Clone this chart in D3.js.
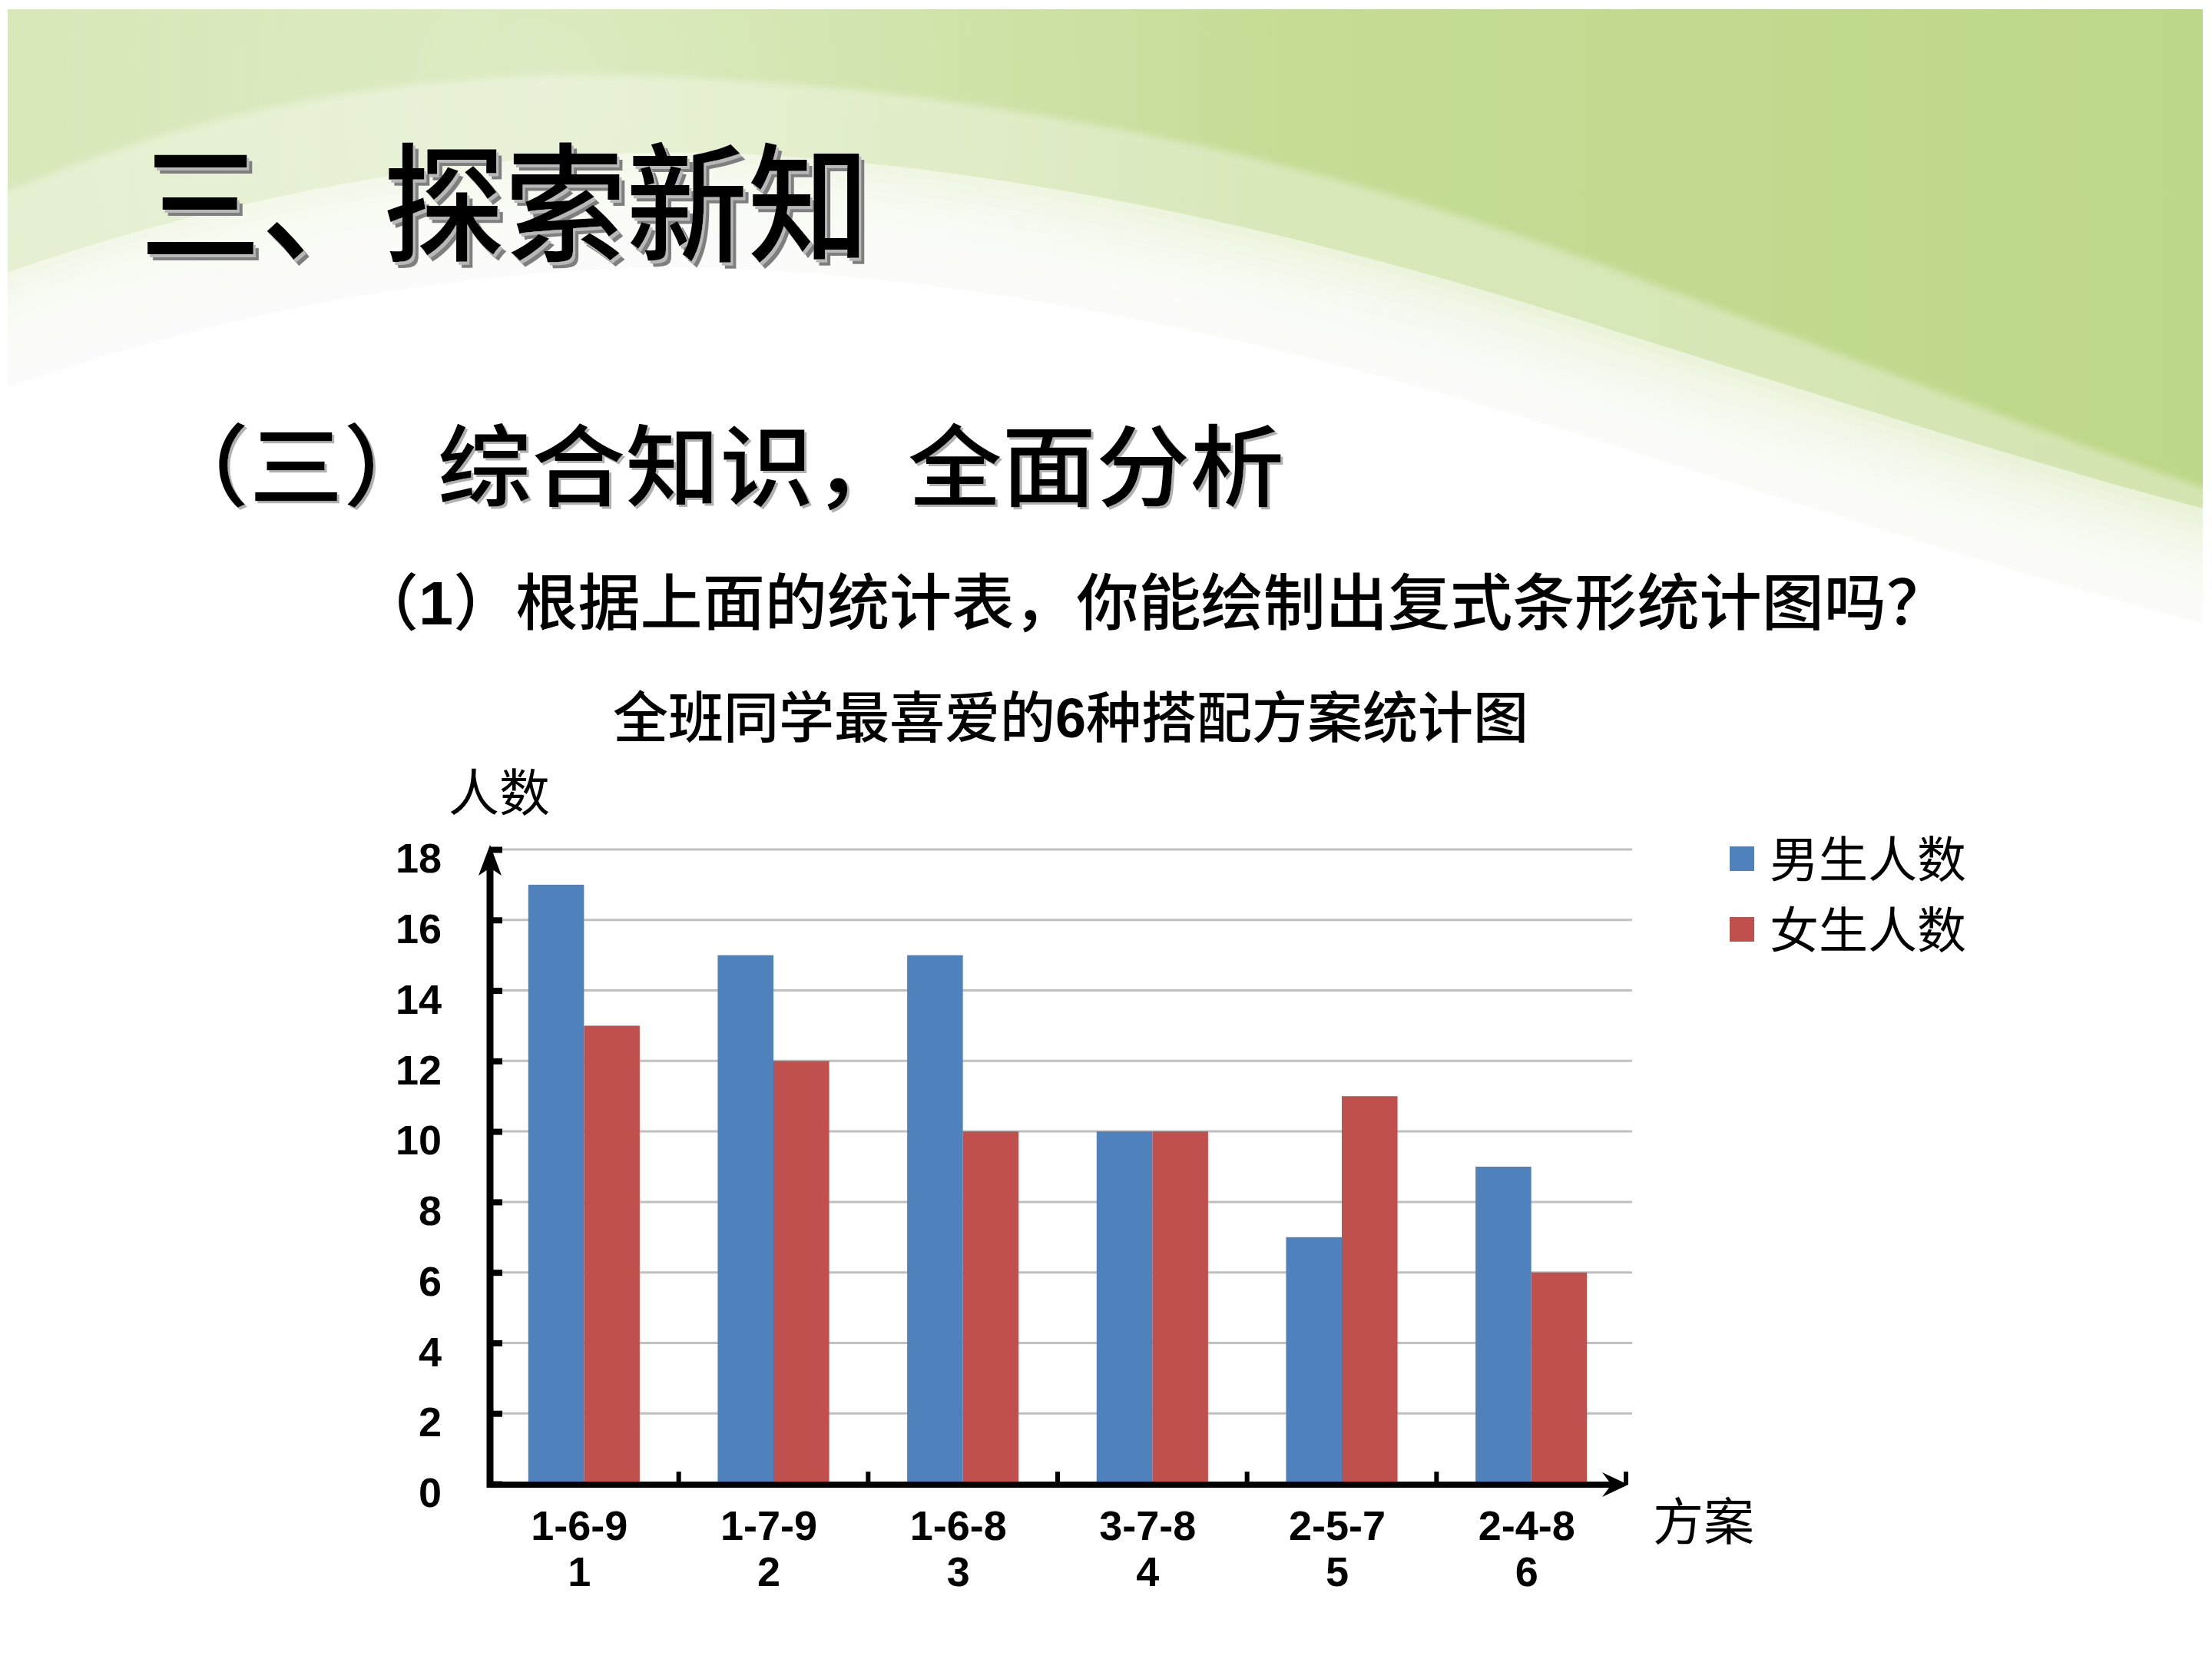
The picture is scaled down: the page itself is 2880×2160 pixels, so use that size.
<!DOCTYPE html>
<html>
<head>
<meta charset="utf-8">
<script src="https://cdn.jsdelivr.net/npm/d3@7/dist/d3.min.js"></script>
<style>
  body { margin: 0; background: #fff; }
  svg { display: block; }
</style>
</head>
<body>
<div id="chart"></div>
<script>
// data
const categories = ['1-6-9', '1-7-9', '1-6-8', '3-7-8', '2-5-7', '2-4-8']
const planNumbers = ['1', '2', '3', '4', '5', '6']
const seriesNames = ['男生人数', '女生人数']
const boys = [17, 15, 15, 10, 7, 9]
const girls = [13, 12, 10, 10, 11, 6]
const yTicks = [0, 2, 4, 6, 8, 10, 12, 14, 16, 18]

const W = 2880, H = 2160
const cjk = '"Noto Sans CJK SC", "Noto Sans CJK TC", sans-serif'
const latin = '"Liberation Sans", Arial, sans-serif'
const colors = { '男生人数': '#4f81bd', '女生人数': '#c0504d' }

var svg = d3.select('#chart').append('svg')
	.attr('width', W)
	.attr('height', H)
	.style('background', '#fff')

var defs = svg.append('defs')

// ---- background: green header with the white wave ----
var grad = defs.append('linearGradient').attr('id', 'green')
	.attr('x1', 0).attr('y1', 0).attr('x2', 1).attr('y2', 0)
grad.append('stop').attr('offset', 0).attr('stop-color', '#d3e5b2')
grad.append('stop').attr('offset', 0.35).attr('stop-color', '#c8df9c')
grad.append('stop').attr('offset', 1).attr('stop-color', '#bdd788')

var glow = defs.append('radialGradient').attr('id', 'glow')
	.attr('gradientUnits', 'userSpaceOnUse')
	.attr('cx', 700).attr('cy', 120).attr('r', 1000)
glow.append('stop').attr('offset', 0).attr('stop-color', '#fff').attr('stop-opacity', 0.35)
glow.append('stop').attr('offset', 1).attr('stop-color', '#fff').attr('stop-opacity', 0)

defs.append('filter').attr('id', 'soft2')
	.append('feGaussianBlur').attr('stdDeviation', 5)

// grey extruded shadow for the big headings
function addShadow (id, steps) {
	var f = defs.append('filter').attr('id', id)
		.attr('x', -0.05).attr('y', -0.1).attr('width', 1.1).attr('height', 1.3)
	var merge = []
	steps.forEach((s, i) => {
		f.append('feOffset').attr('in', 'SourceAlpha').attr('dx', s[0]).attr('dy', s[1]).attr('result', 'o' + i)
		f.append('feFlood').attr('flood-color', s[2]).attr('result', 'c' + i)
		f.append('feComposite').attr('in', 'c' + i).attr('in2', 'o' + i).attr('operator', 'in').attr('result', 's' + i)
		merge.push('s' + i)
	})
	var m = f.append('feMerge')
	merge.reverse().forEach(r => m.append('feMergeNode').attr('in', r))
	m.append('feMergeNode').attr('in', 'SourceGraphic')
}
addShadow('headShadow', [[3, 4, '#b8b8b8'], [7, 8, '#7f7f7f']])
addShadow('subShadow', [[3, 3, '#b0b0b0']])

defs.append('clipPath').attr('id', 'slide')
	.append('rect').attr('x', 10).attr('y', 12).attr('width', 2858).attr('height', H)

var bg = svg.append('g').attr('clip-path', 'url(#slide)')
bg.append('rect')
	.attr('x', 10).attr('y', 12).attr('width', 2858).attr('height', 1000)
	.attr('fill', 'url(#green)')
bg.append('rect')
	.attr('x', 10).attr('y', 12).attr('width', 2858).attr('height', 1000)
	.attr('fill', 'url(#glow)')

const outer = 'M-20,262 C300,120 600,88 882,100 C1300,120 1700,200 2100,350 C2450,480 2700,580 2900,645'
const inner = 'M-20,365 C300,250 650,188 956,200 C1300,214 1700,300 2100,430 C2450,540 2700,620 2900,670'

// lighter ribbon between the two curves
bg.append('path')
	.attr('d', outer + ' L2900,1000 L-20,1000 Z')
	.attr('fill', '#fff').attr('opacity', 0.35)
	.attr('filter', 'url(#soft2)')
// white below the inner curve, faded in by stacked layers
const fadeSteps = d3.range(0, 12)
bg.selectAll('.fade')
	.data(fadeSteps)
	.enter()
	.append('path')
	.attr('class', 'fade')
	.attr('d', inner + ' L2900,1400 L-20,1400 Z')
	.attr('transform', d => 'translate(0,' + (d * 12) + ')')
	.attr('fill', '#fff')
	.attr('opacity', d => d === 0 ? 0.5 : 0.17)
bg.append('path')
	.attr('d', inner + ' L2900,1400 L-20,1400 Z')
	.attr('transform', 'translate(0,150)')
	.attr('fill', '#fff')

// ---- slide texts ----
svg.append('text').attr('x', 182).attr('y', 328)
	.attr('textLength', 950).attr('lengthAdjust', 'spacingAndGlyphs')
	.style('font-family', cjk).style('font-weight', 500).style('font-size', '168px')
	.attr('fill', '#000').attr('filter', 'url(#headShadow)')
	.text('三、探索新知')

svg.append('text').attr('x', 202).attr('y', 650)
	.attr('textLength', 1470).attr('lengthAdjust', 'spacingAndGlyphs')
	.style('font-family', cjk).style('font-weight', 500).style('font-size', '116px')
	.attr('fill', '#000').attr('filter', 'url(#subShadow)')
	.text('（三）综合知识，全面分析')

var q = svg.append('text').attr('x', 464).attr('y', 813)
	.attr('textLength', 2073).attr('lengthAdjust', 'spacingAndGlyphs')
	.style('font-family', cjk).style('font-weight', 500).style('font-size', '80px')
	.attr('fill', '#000')
q.append('tspan').text('（')
q.append('tspan').style('font-family', latin).style('font-weight', 700).text('1')
q.append('tspan').text('）根据上面的统计表，你能绘制出复式条形统计图吗？')

var title = svg.append('text').attr('x', 798).attr('y', 960)
	.style('font-family', cjk).style('font-weight', 500).style('font-size', '72px')
	.attr('fill', '#000')
title.append('tspan').text('全班同学最喜爱的')
title.append('tspan').style('font-family', latin).style('font-weight', 700).text('6')
title.append('tspan').text('种搭配方案统计图')

// ---- chart ----
var x0 = d3.scaleBand()
	.domain(categories)
	.range([637, 2117])
var x1 = d3.scaleBand()
	.domain(seriesNames)
	.range([0, x0.bandwidth()])
	.paddingOuter(0.7)
var y = d3.scaleLinear()
	.domain([0, 18])
	.range([1932, 1106])

var chart = svg.append('g')

// gridlines
chart.selectAll('.grid')
	.data(yTicks.filter(d => d > 0))
	.enter()
	.append('line')
	.attr('class', 'grid')
	.attr('x1', 640).attr('x2', 2125)
	.attr('y1', d => y(d)).attr('y2', d => y(d))
	.style('stroke', '#bfbfbf')
	.style('stroke-width', 3)

// bars
var rows = categories.map((c, i) => ({ cat: c, vals: [boys[i], girls[i]] }))
var groups = chart.selectAll('.grp')
	.data(rows)
	.enter()
	.append('g')
	.attr('class', 'grp')
	.attr('transform', d => 'translate(' + x0(d.cat) + ',0)')
groups.selectAll('rect')
	.data(d => d.vals.map((v, k) => ({ key: seriesNames[k], v: v })))
	.enter()
	.append('rect')
	.attr('x', d => x1(d.key))
	.attr('width', x1.bandwidth())
	.attr('y', d => y(d.v))
	.attr('height', d => y(0) - y(d.v))
	.attr('fill', d => colors[d.key])

// y axis (ticks point inward, labels on the left)
var yAxis = chart.append('g')
	.attr('transform', 'translate(638,0)')
	.call(d3.axisLeft(y).tickValues(yTicks).tickSizeInner(-16).tickSizeOuter(0).tickPadding(63))
yAxis.select('.domain').remove()
yAxis.selectAll('.tick line')
	.style('stroke', '#000').style('stroke-width', 8)
yAxis.selectAll('.tick text')
	.attr('dy', '0.55em')
	.style('font-family', latin).style('font-weight', 700).style('font-size', '54px')
	.style('fill', '#000')

// x axis labels, two lines per category
var xAxis = chart.append('g')
	.attr('transform', 'translate(0,1932)')
	.call(d3.axisBottom(x0).tickSize(0).tickPadding(0))
xAxis.select('.domain').remove()
xAxis.selectAll('.tick text')
	.attr('y', 0).attr('dy', null)
	.style('font-family', latin).style('font-weight', 700).style('font-size', '54px')
	.style('fill', '#000')
	.text(null)
	.each(function (d, i) {
		var t = d3.select(this)
		t.append('tspan').attr('x', -6).attr('y', 73).text(d)
		t.append('tspan').attr('x', -6).attr('y', 133).text(planNumbers[i])
	})

// category boundary ticks on x axis
chart.selectAll('.xtick')
	.data(categories)
	.enter()
	.append('line')
	.attr('class', 'xtick')
	.attr('x1', d => x0(d) + x0.bandwidth()).attr('x2', d => x0(d) + x0.bandwidth())
	.attr('y1', 1933).attr('y2', 1916)
	.style('stroke', '#000').style('stroke-width', 6)

// axis lines with arrows
chart.append('line')
	.attr('x1', 638).attr('x2', 638).attr('y1', 1118).attr('y2', 1937)
	.style('stroke', '#000').style('stroke-width', 9)
chart.append('path')
	.attr('d', 'M638,1100 L653,1140 L638,1130 L623,1140 Z')
	.attr('fill', '#000')
chart.append('line')
	.attr('x1', 634).attr('x2', 2105).attr('y1', 1933).attr('y2', 1933)
	.style('stroke', '#000').style('stroke-width', 8)
chart.append('path')
	.attr('d', 'M2120,1933 L2086,1949 L2098,1933 L2086,1917 Z')
	.attr('fill', '#000')

// axis titles
svg.append('text').attr('x', 584).attr('y', 1056)
	.style('font-family', cjk).style('font-size', '66px').attr('fill', '#000')
	.text('人数')
svg.append('text').attr('x', 2152).attr('y', 2005)
	.style('font-family', cjk).style('font-size', '66px').attr('fill', '#000')
	.text('方案')

// legend
var legend = svg.append('g')
	.selectAll('g')
	.data(seriesNames)
	.enter()
	.append('g')
	.attr('transform', (d, i) => 'translate(2252,' + (1102 + i * 92) + ')')
legend.append('rect')
	.attr('width', 32).attr('height', 32)
	.attr('fill', d => colors[d])
legend.append('text')
	.attr('x', 52).attr('y', 40)
	.style('font-family', cjk).style('font-size', '64px').attr('fill', '#000')
	.text(d => d)
</script>
</body>
</html>
